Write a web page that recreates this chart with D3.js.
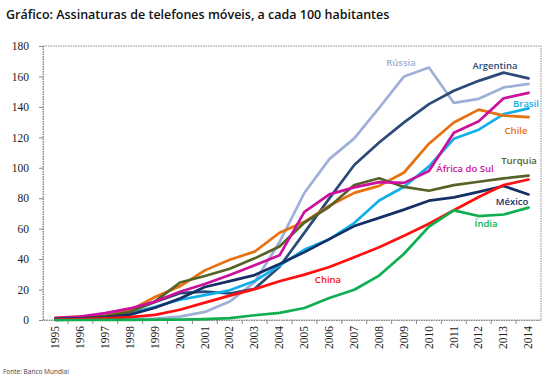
<!DOCTYPE html>
<html>
<head>
<meta charset="utf-8">
<script src="https://cdn.jsdelivr.net/npm/d3@7"></script>
<style>
  body { margin: 0; background: #fff; }
  svg { display: block; }
</style>
</head>
<body>
<div id="chart"></div>
<script>
// Years on the category axis
const years = d3.range(1995, 2015).map(String);

// Subscriptions per 100 inhabitants
const russia = [0.1, 0.2, 0.3, 0.5, 0.9, 2.2, 5.3, 12.1, 24.9, 51.2, 83.6, 105.7, 119.3, 139.3, 160.0, 165.9, 142.6, 145.3, 152.8, 155.1];
const argentina = [0.1, 0.5, 1.7, 5.8, 11.9, 17.6, 18.6, 17.4, 20.5, 35.0, 57.4, 79.9, 101.8, 116.6, 129.8, 141.8, 150.6, 157.1, 162.5, 158.7];
const brasil = [0.8, 1.6, 2.8, 4.4, 8.7, 13.3, 16.3, 19.5, 25.6, 35.7, 46.3, 53.1, 63.7, 78.5, 87.5, 100.9, 119.0, 125.0, 135.3, 139.0];
const chile = [1.4, 2.2, 2.8, 6.5, 15.1, 22.1, 32.6, 39.6, 44.9, 57.3, 64.5, 75.1, 83.5, 88.1, 96.9, 115.8, 129.7, 138.2, 134.3, 133.3];
const africaSul = [1.3, 2.3, 4.5, 7.6, 12.1, 18.6, 23.6, 29.6, 35.9, 42.5, 71.0, 82.5, 87.1, 90.6, 90.1, 97.9, 123.0, 130.6, 145.6, 149.2];
const turquia = [0.7, 1.3, 2.5, 5.3, 12.2, 24.6, 28.9, 33.7, 40.5, 48.3, 64.0, 74.4, 88.7, 93.1, 87.4, 84.9, 88.6, 90.8, 93.0, 94.8];
const mexico = [0.7, 1.1, 1.8, 3.5, 8.0, 14.1, 21.7, 25.5, 29.5, 36.8, 44.6, 53.1, 61.7, 67.1, 72.5, 78.4, 80.6, 84.2, 88.0, 82.5];
const china = [0.3, 0.6, 1.1, 1.9, 3.4, 6.7, 11.4, 16.0, 20.3, 25.5, 29.8, 34.8, 41.2, 47.8, 55.3, 63.2, 72.1, 80.8, 88.7, 92.3];
const india = [0.0, 0.0, 0.1, 0.1, 0.2, 0.3, 0.6, 1.2, 3.1, 4.7, 7.9, 14.4, 19.9, 29.2, 43.5, 61.4, 72.0, 68.3, 69.3, 73.8];

const yTicks = [0, 20, 40, 60, 80, 100, 120, 140, 160, 180];

const series = [
  { name: "Rússia", values: russia, color: "#9fb0d8", lx: 401, ly: 63 },
  { name: "Argentina", values: argentina, color: "#2b4a78", lx: 495, ly: 66 },
  { name: "Brasil", values: brasil, color: "#12b0ea", lx: 526, ly: 104 },
  { name: "Chile", values: chile, color: "#e8710f", lx: 516, ly: 131 },
  { name: "Turquia", values: turquia, color: "#556326", lx: 519, ly: 161 },
  { name: "África do Sul", values: africaSul, color: "#cc0f9c", lx: 465, ly: 169 },
  { name: "México", values: mexico, color: "#142f66", lx: 512, ly: 202 },
  { name: "China", values: china, color: "#ff0f0f", lx: 328, ly: 280 },
  { name: "Índia", values: india, color: "#0fae4f", lx: 486, ly: 224 },
];

const width = 553, height = 382;
const margin = { top: 46, right: 12, bottom: 62, left: 43 };

const svg = d3.select("#chart").append("svg")
  .attr("width", width)
  .attr("height", height)
  .attr("font-family", "'Open Sans', sans-serif");

const x = d3.scaleBand()
  .domain(years)
  .range([margin.left, width - margin.right]);

const y = d3.scaleLinear()
  .domain([0, 180])
  .range([height - margin.bottom, margin.top]);

// title
svg.append("text")
  .attr("x", 6)
  .attr("y", 19)
  .attr("font-size", 12.5)
  .attr("font-weight", 600)
  .attr("fill", "#111")
  .text("Gráfico: Assinaturas de telefones móveis, a cada 100 habitantes");

// plot border (dotted)
svg.append("rect")
  .attr("x", margin.left)
  .attr("y", margin.top)
  .attr("width", width - margin.left - margin.right)
  .attr("height", height - margin.top - margin.bottom)
  .attr("fill", "none")
  .attr("stroke", "#8a8a8a")
  .attr("stroke-dasharray", "1.5,1");

// y axis
const yAxis = svg.append("g")
  .attr("transform", `translate(${margin.left},0)`)
  .call(d3.axisLeft(y).tickValues(yTicks).tickSize(4).tickPadding(10));
yAxis.select(".domain").attr("stroke", "#8a8a8a").attr("stroke-dasharray", "1.5,1");
yAxis.selectAll(".tick line").attr("stroke", "#8a8a8a");
yAxis.selectAll("text")
  .attr("font-size", 11.5)
  .attr("font-family", "'Liberation Serif', serif")
  .attr("fill", "#222");

// x axis: ticks between categories
const xAxis = svg.append("g")
  .attr("transform", `translate(0,${height - margin.bottom})`)
  .call(d3.axisBottom(x).tickSize(0).tickPadding(6));
xAxis.select(".domain").attr("stroke", "#8a8a8a").attr("stroke-dasharray", "1.5,1");
xAxis.selectAll("text")
  .attr("font-size", 11.5)
  .attr("font-family", "'Liberation Serif', serif")
  .attr("fill", "#222")
  .attr("text-anchor", "end")
  .attr("transform", "rotate(-90)")
  .attr("x", -6)
  .attr("y", 0)
  .attr("dy", "0.32em");
xAxis.selectAll(".sep")
  .data(years.slice(1))
  .join("line")
  .attr("class", "sep")
  .attr("x1", d => x(d))
  .attr("x2", d => x(d))
  .attr("y1", 0)
  .attr("y2", 4)
  .attr("stroke", "#8a8a8a");

// lines
const line = d3.line()
  .x((d, i) => x(years[i]) + x.bandwidth() / 2)
  .y(d => y(d));

svg.append("g")
  .attr("fill", "none")
  .attr("stroke-width", 2.7)
  .attr("stroke-linejoin", "round")
  .attr("stroke-linecap", "round")
  .selectAll("path")
  .data(series)
  .join("path")
  .attr("stroke", d => d.color)
  .attr("d", d => line(d.values));

// series labels
svg.append("g")
  .selectAll("text")
  .data(series)
  .join("text")
  .attr("x", d => d.lx)
  .attr("y", d => d.ly)
  .attr("dy", "0.35em")
  .attr("text-anchor", "middle")
  .attr("font-size", 9.5)
  .attr("font-weight", 600)
  .attr("fill", d => d.color)
  .text(d => d.name);

// source
svg.append("text")
  .attr("x", 3)
  .attr("y", 374)
  .attr("font-size", 6.5)
  .attr("fill", "#444")
  .text("Fonte: Banco Mundial");
</script>
</body>
</html>
